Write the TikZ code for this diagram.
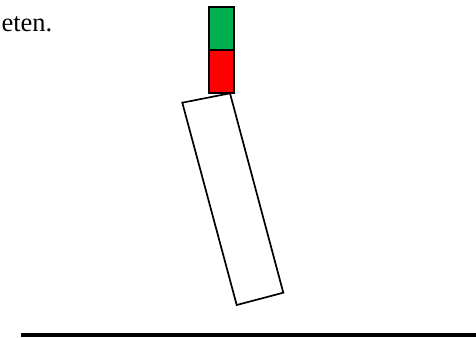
\documentclass[tikz,border=0pt]{standalone}
\usepackage{fontspec}
\setmainfont{Liberation Serif}
\tikzset{
  box/.style={draw=black, line width=2pt},
  outline/.style={draw=black, line width=1.7pt, line join=miter},
  ground/.style={draw=black, line width=4pt},
}
\definecolor{boxgreen}{RGB}{0,176,80}
\definecolor{boxred}{RGB}{255,0,0}
\begin{document}
\begin{tikzpicture}[x=1pt,y=-1pt]
\useasboundingbox (0,0) rectangle (476,337);
\begin{scope}
\clip (0,0) rectangle (476,337);
\node[anchor=base east, inner sep=0pt, font=\fontsize{26.5}{30}\selectfont] (txt) at (52.5,32) {eten.};
\draw[outline, fill=white] (182.3,102.7) coordinate (p1) -- (230,93.3) coordinate (p2) -- (283.3,292.7) coordinate (p3) -- (236.7,305) coordinate (p4) -- cycle;
\draw[box, fill=boxred] (208.7,50) rectangle (234.3,92.7);
\draw[box, fill=boxgreen] (208.7,6.7) rectangle (234.3,50);
\coordinate (gl) at (21,335.3);
\coordinate (gr) at (478,335.3);
\draw[ground] (gl) -- (gr);
\end{scope}
\end{tikzpicture}
\end{document}
